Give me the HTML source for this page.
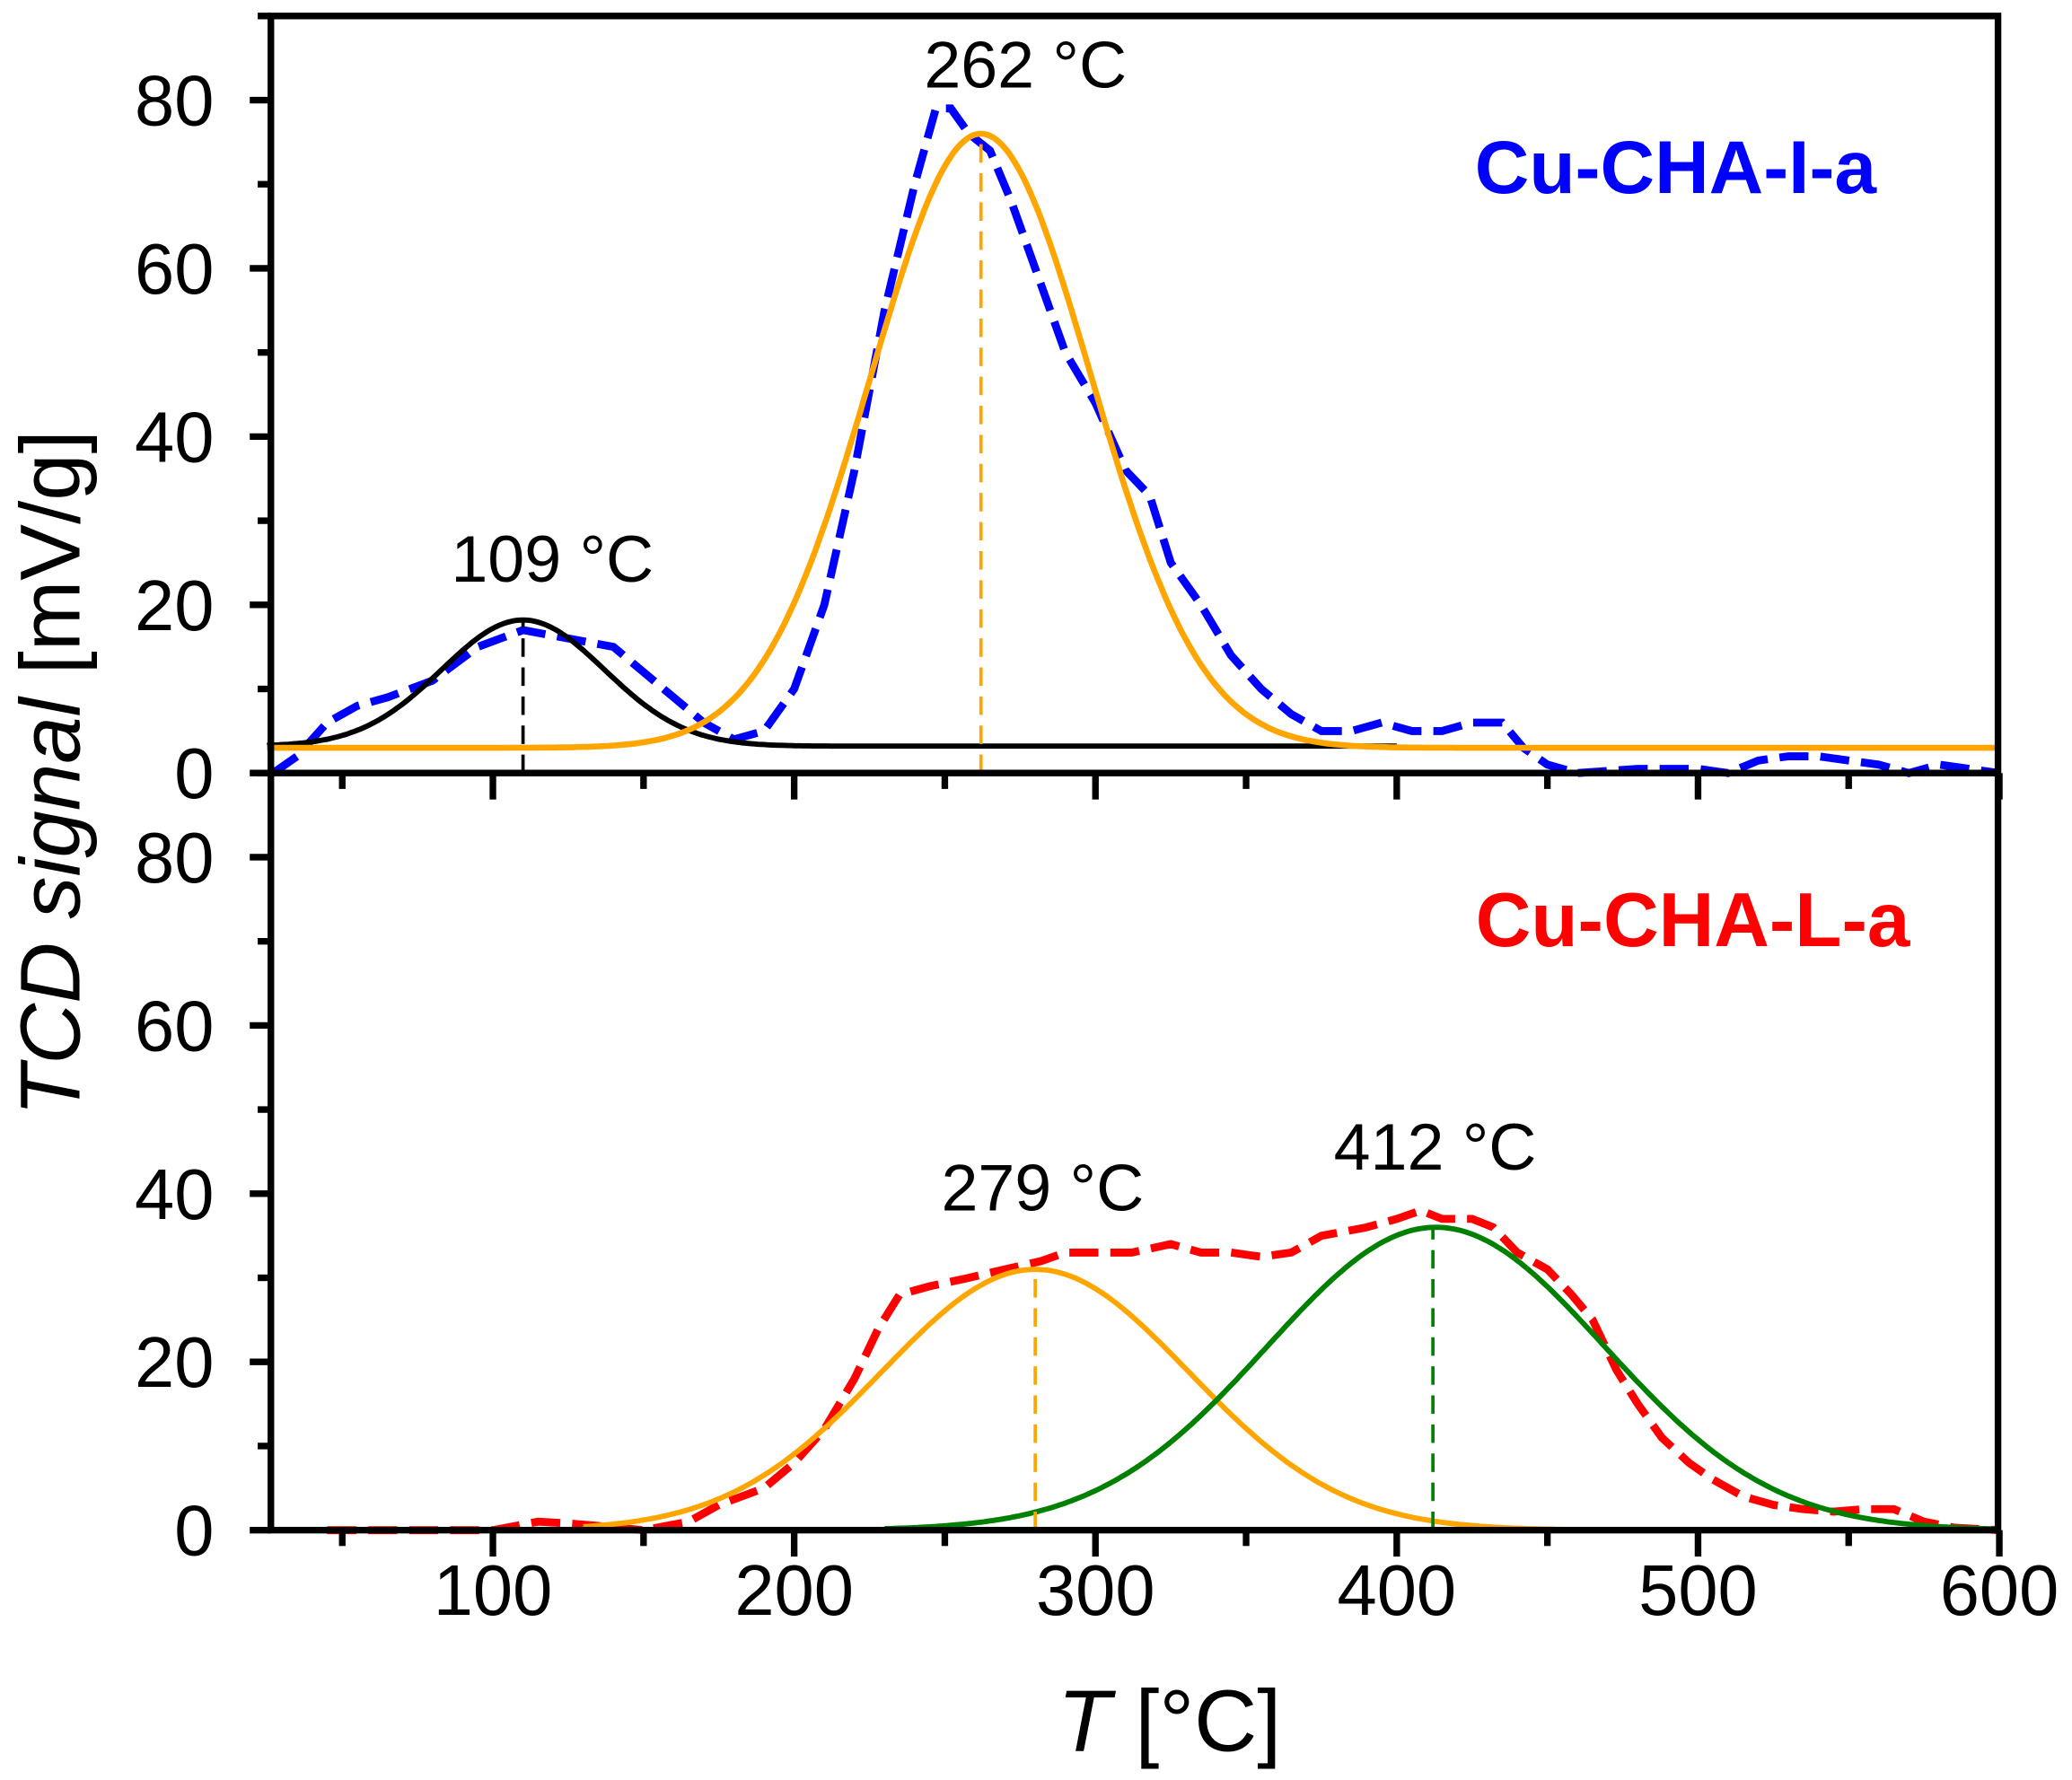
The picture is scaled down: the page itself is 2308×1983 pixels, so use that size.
<!DOCTYPE html>
<html><head><meta charset="utf-8"><style>
html,body{margin:0;padding:0;background:#fff}
svg{display:block}
text{font-family:"Liberation Sans",Arial,sans-serif}
</style></head><body>
<svg id="s" xmlns="http://www.w3.org/2000/svg" width="2308" height="1983" viewBox="0 0 1568 1347">
<g id="curves"></g>
<g id="axes" stroke="#000" stroke-width="5" fill="none"></g>
<g font-size="54" fill="#000" text-anchor="end" id="yl"></g>
<g font-size="54" fill="#000" text-anchor="middle" id="xl"></g>
<text x="776" y="66" font-size="50" text-anchor="middle">262 °C</text>
<text x="418" y="440" font-size="50" text-anchor="middle">109 °C</text>
<text x="789" y="916" font-size="50" text-anchor="middle">279 °C</text>
<text x="1086" y="885" font-size="50" text-anchor="middle">412 °C</text>
<text x="1268" y="146" font-size="57" font-weight="bold" fill="#0000ff" text-anchor="middle">Cu-CHA-I-a</text>
<text x="1281" y="716" font-size="58" font-weight="bold" fill="#ff0000" text-anchor="middle">Cu-CHA-L-a</text>
<text x="885" y="1325" font-size="66" text-anchor="middle"><tspan font-style="italic">T</tspan> [°C]</text>
<text transform="translate(60,585) rotate(-90)" font-size="64" text-anchor="middle"><tspan font-style="italic">TCD signal</tspan> [mV/g]</text>
</svg>
<script>
var NS="http://www.w3.org/2000/svg";
var L=205,R=1512,T=12,M=585,B=1158;
function X(t){return 145+t*2.28;}
function YT(v){return M-v*(M-T)/90;}
function YB(v){return B-v*(B-M)/90;}
function add(p,parent,attrs){var e=document.createElementNS(NS,p);for(var k in attrs)e.setAttribute(k,attrs[k]);document.getElementById(parent).appendChild(e);return e;}
function gauss(c,a,s,b,Y,x0,x1){var d="";for(var t=x0;t<=x1;t+=1){var v=b+a*Math.exp(-(t-c)*(t-c)/(2*s*s));d+=(d?"L":"M")+X(t).toFixed(1)+","+Y(v).toFixed(1);}return d;}
function pts(arr,Y){var d="";for(var i=0;i<arr.length;i+=2){d+=(d?"L":"M")+X(arr[i]).toFixed(1)+","+Y(arr[i+1]).toFixed(1);}return d;}
var blue=[27,0,35,2,45,6,55,8,65,9,80,11,95,15,110,17,125,16,140,15,150,12,160,9,170,6,180,4,190,5,200,10,210,20,220,36,230,55,240,70,247,79,252,79,258,76,265,74,272,68,280,60,290,50,300,44,310,36,318,33,325,25,335,20,345,14,355,10,365,7,375,5,385,5,395,6,405,5,415,5,425,6,435,6,442,3,450,1,460,0,480,0.5,500,0.5,510,0,520,1.5,530,2,540,2,550,1.5,560,1,570,0,580,1,590,0.5,600,0];
var red=[45,0,60,0,80,0,100,0,115,1,125,0.8,135,0.5,150,0,165,1,175,3,190,5,200,8,210,12,220,18,228,24,235,28,245,29,258,30,270,31,282,32,290,33,300,33,312,33,325,34,335,33,345,33,355,32.5,365,33,375,35,390,36,400,37,408,38,415,37,425,37,432,36,440,33,450,31,458,28,465,25,473,19,480,15,488,11,497,8,505,6,515,4,525,3,535,2.5,545,2.2,555,2.5,565,2.5,575,1,585,0.3,600,0];
add("path","curves",{d:pts(blue,YT),stroke:"#0000ff","stroke-width":6,fill:"none","stroke-dasharray":"22 9"});
add("path","curves",{d:pts(red,YB),stroke:"#ff0000","stroke-width":6,fill:"none","stroke-dasharray":"22 9"});
add("path","curves",{d:gauss(110,15,27,3.2,YT,25,400),stroke:"#000","stroke-width":4,fill:"none"});
add("path","curves",{d:gauss(262,73,36.5,3,YT,25,600),stroke:"#ffa500","stroke-width":4.5,fill:"none"});
add("path","curves",{d:gauss(280,31,51,0,YB,130,600),stroke:"#ffa500","stroke-width":4,fill:"none"});
add("path","curves",{d:gauss(413,36,56,0,YB,230,600),stroke:"#008000","stroke-width":4,fill:"none"});
add("line","curves",{x1:X(110),x2:X(110),y1:YT(0),y2:YT(18),stroke:"#000","stroke-width":2.5,"stroke-dasharray":"14 8"});
add("line","curves",{x1:X(262),x2:X(262),y1:YT(0),y2:YT(76),stroke:"#ffa500","stroke-width":2.5,"stroke-dasharray":"14 8"});
add("line","curves",{x1:X(280),x2:X(280),y1:YB(0),y2:YB(31),stroke:"#ffa500","stroke-width":2.5,"stroke-dasharray":"14 8"});
add("line","curves",{x1:X(412),x2:X(412),y1:YB(0),y2:YB(36),stroke:"#008000","stroke-width":2.5,"stroke-dasharray":"14 8"});
add("rect","axes",{x:L,y:T,width:R-L,height:B-T});
add("line","axes",{x1:L,x2:R,y1:M,y2:M});
for(var t=50;t<=600;t+=50){var maj=(t%100==0);
 add("line","axes",{x1:X(t),x2:X(t),y1:B,y2:B+(maj?20:12)});
 add("line","axes",{x1:X(t),x2:X(t),y1:M,y2:M+(maj?20:12)});
 if(maj){var e=add("text","xl",{x:X(t),y:1222});e.textContent=t;}}
for(var v=0;v<=90;v+=10){var maj=(v%20==0);
 [YT,YB].forEach(function(Y){add("line","axes",{x1:L,x2:L-(maj?16:10),y1:Y(v),y2:Y(v)});
 if(maj&&v<=80){var e=add("text","yl",{x:162,y:Y(v)+19});e.textContent=v;}});}
</script>
</body></html>
